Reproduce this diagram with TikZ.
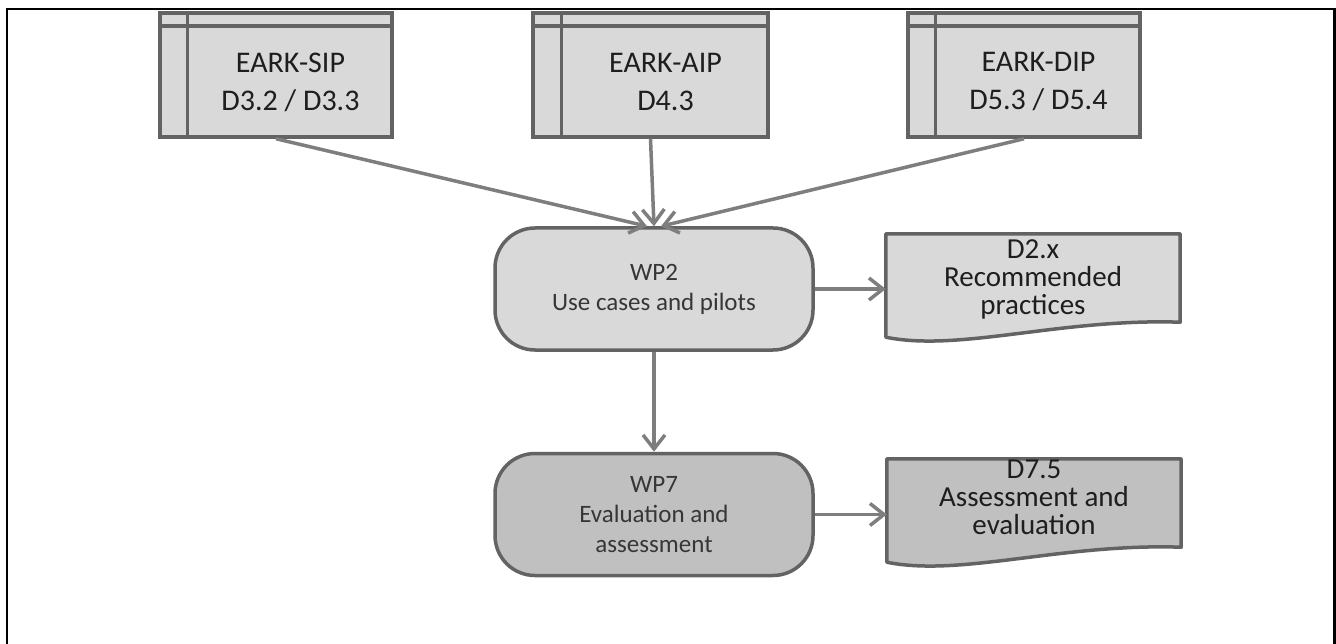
\documentclass[tikz,border=0pt]{standalone}
\usepackage{fontspec}
\setmainfont{Carlito}
\usetikzlibrary{arrows.meta,calc}
\definecolor{boxgray}{HTML}{D9D9D9}
\definecolor{darkfill}{HTML}{C0C0C0}
\definecolor{edgegray}{HTML}{636363}
\definecolor{arrowgray}{HTML}{7E7E7E}
\definecolor{txtdark}{HTML}{1E1E1E}
\definecolor{txtmid}{HTML}{363636}
\begin{document}
\begin{tikzpicture}[x=1pt,y=-1pt,
  earkbox/.style={draw=edgegray, fill=boxgray, line width=3.5pt, minimum height=124pt, inner sep=0pt},
  earktext/.style={text=txtdark, align=center, font=\fontsize{30}{38}\selectfont, inner sep=0pt},
  wpbox/.style={draw=edgegray, line width=3.5pt, rounded corners=40pt, minimum width=318pt, minimum height=122pt,
     align=center, text=txtmid, font=\fontsize{25}{30}\selectfont, inner sep=0pt},
  docarea/.style={minimum width=294pt, minimum height=103pt, inner sep=0pt},
  docline/.style={draw=edgegray, line width=3.5pt, line join=round},
  doctext/.style={text=txtdark, align=center, font=\fontsize{29}{28}\selectfont, inner sep=0pt},
  conn/.style={draw=arrowgray, line width=3.5pt, -{Straight Barb[length=14pt,width=22pt]}},
  innerline/.style={draw=edgegray, line width=3.5pt}
]
\useasboundingbox (0,0) rectangle (1336,644);
\draw[line width=2.5pt] (7,644) -- (7,9) -- (1334.5,9) -- (1334.5,644);

% EARK boxes
\node[earkbox, minimum width=232pt] (sip) at (276,75) {};
\node[earkbox, minimum width=235pt] (aip) at (650.5,75) {};
\node[earkbox, minimum width=232pt] (dip) at (1024,75) {};
\foreach \b/\d in {sip/29, aip/30, dip/29}{
  \draw[innerline] ([xshift=\d pt]\b.north west) -- ([xshift=\d pt]\b.south west);
  \draw[innerline] ([yshift=-15pt]\b.north west) -- ([yshift=-15pt]\b.north east);
}
\node[earktext] (siptext) at (290.5,82) {EARK-SIP\\D3.2 / D3.3};
\node[earktext] (aiptext) at (665.5,82) {EARK-AIP\\D4.3};
\node[earktext] (diptext) at (1038.5,82) {EARK-DIP\\D5.3 / D5.4};

% WP boxes
\node[wpbox, fill=boxgray] (wp2) at (654,289) {WP2\\Use cases and pilots};
\node[wpbox, fill=darkfill] (wp7) at (654,514.5) {WP7\\Evaluation and\\assessment};

% document shapes
\node[docarea] (d2) at (1033,285.5) {};
\draw[docline, fill=boxgray] (d2.south west) -- (d2.north west) -- (d2.north east) -- ($(d2.south east)+(0,-15)$)
  .. controls ($(d2.south east)+(-120,-19)$) and ($(d2.south west)+(74,15)$) .. (d2.south west) -- cycle;
\node[doctext] (d2text) at (1033,279) {D2.x\\Recommended\\practices};

\node[docarea] (d7) at (1034,510.5) {};
\draw[docline, fill=darkfill] (d7.south west) -- (d7.north west) -- (d7.north east) -- ($(d7.south east)+(0,-15)$)
  .. controls ($(d7.south east)+(-120,-19)$) and ($(d7.south west)+(74,15)$) .. (d7.south west) -- cycle;
\node[doctext] (d7text) at (1034,497) {D7.5\\Assessment and\\evaluation};

% connectors
\draw[conn] (sip.south) -- ([xshift=-7pt]wp2.north);
\draw[conn] (aip.south) -- (wp2.north);
\draw[conn] (dip.south) -- ([xshift=7pt]wp2.north);
\draw[conn] (wp2.south) -- (wp7.north);
\draw[conn] (wp2.east) -- (wp2.east -| d2.west);
\draw[conn] (wp7.east) -- (wp7.east -| d7.west);
\end{tikzpicture}
\end{document}
